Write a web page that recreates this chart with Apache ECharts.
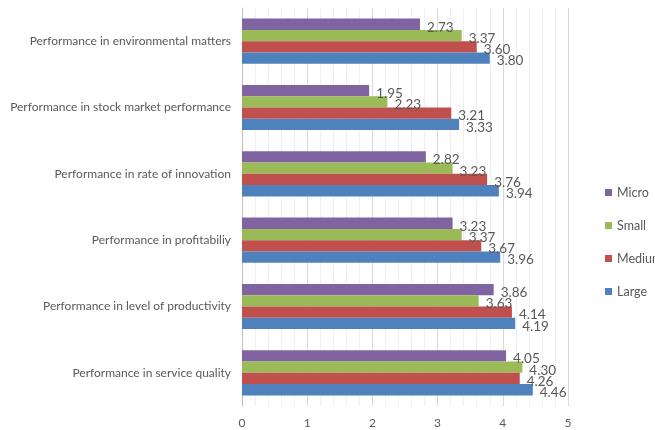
<!DOCTYPE html>
<html>
<head>
<meta charset="utf-8">
<script src="https://cdn.jsdelivr.net/npm/echarts@6/dist/echarts.min.js"></script>
<style>
  html, body { margin: 0; padding: 0; background: #ffffff; }
  #chart { width: 655px; height: 430px; }
</style>
</head>
<body>
<div id="chart"></div>
<script>
// Performance dimensions (bottom to top on the category axis)
const categories = [
  'Performance in service quality',
  'Performance in level of productivity',
  'Performance in profitabiliy',
  'Performance in rate of innovation',
  'Performance in stock market performance',
  'Performance in environmental matters'
];

// Mean scores by firm size
const large  = [4.46, 4.19, 3.96, 3.94, 3.33, 3.80];
const medium = [4.26, 4.14, 3.67, 3.76, 3.21, 3.60];
const small  = [4.30, 3.63, 3.37, 3.23, 2.23, 3.37];
const micro  = [4.05, 3.86, 3.23, 2.82, 1.95, 2.73];

const xTicks = [0, 1, 2, 3, 4, 5];

const FONT = 'Lato, "Open Sans", sans-serif';
const TEXT = '#595959';

function barSeries(name, data, color) {
  return {
    name: name,
    type: 'bar',
    data: data,
    barGap: '0%',
    barCategoryGap: '32%',
    itemStyle: { color: color },
    label: {
      show: true,
      position: 'right',
      distance: 7,
      offset: [0, 3],
      formatter: p => p.value.toFixed(2),
      color: TEXT,
      fontFamily: FONT,
      fontSize: 13.5
    }
  };
}

const chart = echarts.init(document.getElementById('chart'), null, { renderer: 'canvas' });
chart.setOption({
  animation: false,
  backgroundColor: '#ffffff',
  grid: { left: 242, right: 87, top: 8, bottom: 24, containLabel: false },
  legend: {
    orient: 'vertical',
    left: 600,
    top: 181,
    itemWidth: 7,
    itemHeight: 7,
    itemGap: 20,
    icon: 'rect',
    textStyle: { color: TEXT, fontFamily: FONT, fontSize: 12.5 },
    data: ['Micro', 'Small', 'Medium', 'Large']
  },
  xAxis: {
    type: 'value',
    min: xTicks[0],
    max: xTicks[xTicks.length - 1],
    interval: 1,
    axisLine: { show: false },
    axisTick: { show: false },
    axisLabel: { color: TEXT, fontFamily: FONT, fontSize: 12, margin: 11 },
    splitLine: { show: true, lineStyle: { color: '#d9d9d9', width: 1 } },
    minorTick: { show: false, splitNumber: 5 },
    minorSplitLine: { show: true, lineStyle: { color: '#efefef', width: 1 } }
  },
  yAxis: {
    type: 'category',
    data: categories,
    axisLine: { show: true, lineStyle: { color: '#bfbfbf' } },
    axisTick: { show: false },
    axisLabel: { color: TEXT, fontFamily: FONT, fontSize: 12, margin: 11 }
  },
  // Micro drawn first so it sits at the top of each group, Large at the bottom
  series: [
    barSeries('Micro', micro, '#8064A2'),
    barSeries('Small', small, '#9BBB59'),
    barSeries('Medium', medium, '#C0504D'),
    barSeries('Large', large, '#4F81BD')
  ]
});
</script>
</body>
</html>
